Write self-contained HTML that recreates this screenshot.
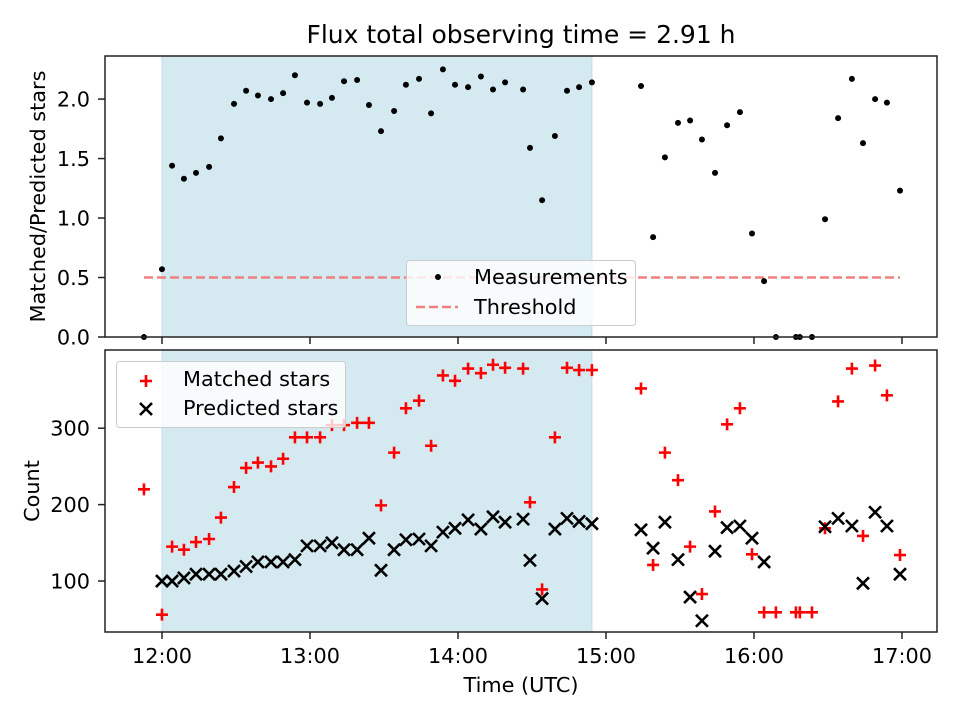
<!DOCTYPE html>
<html><head><meta charset="utf-8"><style>
body{margin:0;background:#fff;}
svg{display:block;font-family:"DejaVu Sans","Liberation Sans",sans-serif;}
</style></head><body>
<svg id="fig" width="960" height="720" viewBox="0 0 960 720"></svg>
<script>
// minutes after 12:00 UTC
const times=[-7.3,0,4.1,8.9,13.8,19.1,23.9,29.2,34.1,38.9,44.2,49.1,53.9,58.8,64.1,68.9,73.8,79.1,83.9,88.8,94.1,98.9,104.2,109.1,113.9,118.8,124.1,129.3,134.2,139.1,146.4,149.2,154.1,159.3,164.2,169.1,174.3,
194.2,199.1,203.9,209.2,214.1,218.9,224.2,229.1,234.3,239.2,244.1,248.9,257.0,258.6,263.5,268.8,274.1,279.7,284.2,289.1,293.9,299.2];
const ratio=[0,0.57,1.44,1.33,1.38,1.43,1.67,1.96,2.07,2.03,2.00,2.05,2.20,1.97,1.96,2.01,2.15,2.16,1.95,1.73,1.90,2.12,2.17,1.88,2.25,2.12,2.10,2.19,2.08,2.14,2.08,1.59,1.15,1.69,2.07,2.10,2.14,
2.11,0.84,1.51,1.80,1.82,1.66,1.38,1.78,1.89,0.87,0.47,0,0,0,0,0.99,1.84,2.17,1.63,2.00,1.97,1.23];
const matched=[220,56,145,141,151,155,183,223,248,255,250,260,288,288,288,304,304,307,307,199,268,326,336,277,369,362,378,372,383,379,378,203,89,288,379,376,376,
352,121,268,232,145,83,191,305,326,135,59,59,59,59,59,169,335,378,159,382,343,134];
const predicted=[null,100,100,104,109,109,109,113,119,125,125,125,128,146,146,150,141,141,156,114,141,154,155,146,164,169,180,168,184,177,181,127,77,168,182,178,175,
167,143,177,128,79,48,139,170,172,156,125,null,null,null,null,171,182,172,97,190,172,109];
const threshold=0.5;
const shadeStart=0, shadeEnd=174.3;
const xTicks=[0,60,120,180,240,300];
const xTickLabels=["12:00","13:00","14:00","15:00","16:00","17:00"];
const topTicks=[0,0.5,1.0,1.5,2.0];
const topTickLabels=["0.0","0.5","1.0","1.5","2.0"];
const botTicks=[100,200,300];
const botTickLabels=["100","200","300"];

const NS="http://www.w3.org/2000/svg";
const svg=document.getElementById('fig');
function el(tag,attrs,parent){const e=document.createElementNS(NS,tag);for(const k in attrs)e.setAttribute(k,attrs[k]);(parent||svg).appendChild(e);return e;}
const L=105,R=937;
const FS='20.8';
const x=m=>L+(m-(-23.1))/(314.2-(-23.1))*(R-L);
const T1=56,B1=337,T2=350,B2=632;
const yTop=v=>B1-(v-0)/(2.362-0)*(B1-T1);
const yBot=v=>B2-(v-33.3)/(402.3-33.3)*(B2-T2);

// title
let t=el('text',{x:521,y:43,'text-anchor':'middle','font-size':'25',fill:'#000'});
t.textContent='Flux total observing time = 2.91 h';



function panel(top,bot,name){
  const g=el('g',{});
  
  
  el('rect',{x:L,y:top,width:R-L,height:bot-top,fill:'#fff'},g);
  const s=el('rect',{x:x(shadeStart),y:top,width:x(shadeEnd)-x(shadeStart),height:bot-top,fill:'#d5eaf0',stroke:'#bfdfe8','stroke-width':1},g);
  
  
  return g;
}
function frame(top,bot,g){el('rect',{x:L,y:top,width:R-L,height:bot-top,fill:'none',stroke:'#222','stroke-width':1.5},g);}

// TOP PANEL
const g1=panel(T1,B1,'ratio-panel');
const th=el('line',{x1:x(-7.3),x2:x(299.2),y1:yTop(threshold),y2:yTop(threshold),stroke:'#f08080','stroke-width':2.5,'stroke-dasharray':'9,4'},g1);


times.forEach((m,i)=>{
  const c=el('circle',{cx:x(m),cy:yTop(ratio[i]),r:3,fill:'#000'},g1);
  
  
});
frame(T1,B1,g1);
topTicks.forEach((v,i)=>{
  el('line',{x1:L-7,x2:L,y1:yTop(v),y2:yTop(v),stroke:'#222','stroke-width':1.5},g1);
  const tx=el('text',{x:L-15,y:yTop(v)+7.5,'text-anchor':'end','font-size':FS},g1);
  tx.textContent=topTickLabels[i];
  
  
});
xTicks.forEach(m=>el('line',{x1:x(m),x2:x(m),y1:B1,y2:B1+7,stroke:'#222','stroke-width':1.5},g1));
let yl=el('text',{x:0,y:0,'text-anchor':'middle','font-size':FS,transform:`translate(45,${(T1+B1)/2}) rotate(-90)`},g1);
yl.textContent='Matched/Predicted stars';


// legend top
const lg1=el('g',{},g1);


el('rect',{x:406.5,y:260.5,width:229,height:65,rx:3,fill:'#fff','fill-opacity':0.8,stroke:'#ccc'},lg1);
el('circle',{cx:438,cy:277,r:3,fill:'#000'},lg1);
el('line',{x1:416,x2:458,y1:307,y2:307,stroke:'#f08080','stroke-width':2.5,'stroke-dasharray':'9,4'},lg1);
let a=el('text',{x:474,y:284,'font-size':FS},lg1);a.textContent='Measurements';
let b=el('text',{x:474,y:314,'font-size':FS},lg1);b.textContent='Threshold';

// BOTTOM PANEL
const g2=panel(T2,B2,'count-panel');
times.forEach((m,i)=>{
  const cx=x(m),cy=yBot(matched[i]);
  const p=el('path',{d:`M${cx-6},${cy}H${cx+6}M${cx},${cy-6}V${cy+6}`,stroke:'#f00','stroke-width':2.6},g2);
  
  
});
times.forEach((m,i)=>{
  if(predicted[i]===null)return;
  const cx=x(m),cy=yBot(predicted[i]);
  const p=el('path',{d:`M${cx-6},${cy-6}L${cx+6},${cy+6}M${cx-6},${cy+6}L${cx+6},${cy-6}`,stroke:'#000','stroke-width':2.6},g2);
  
  
});
frame(T2,B2,g2);
botTicks.forEach((v,i)=>{
  el('line',{x1:L-7,x2:L,y1:yBot(v),y2:yBot(v),stroke:'#222','stroke-width':1.5},g2);
  const tx=el('text',{x:L-15,y:yBot(v)+7.5,'text-anchor':'end','font-size':FS},g2);
  tx.textContent=botTickLabels[i];
  
  
});
xTicks.forEach((m,i)=>{
  el('line',{x1:x(m),x2:x(m),y1:B2,y2:B2+7,stroke:'#222','stroke-width':1.5},g2);
  const tx=el('text',{x:x(m),y:B2+31,'text-anchor':'middle','font-size':FS},g2);
  tx.textContent=xTickLabels[i];
  
  
});
let yl2=el('text',{x:0,y:0,'text-anchor':'middle','font-size':FS,transform:`translate(39,${(T2+B2)/2}) rotate(-90)`},g2);
yl2.textContent='Count';


let xl=el('text',{x:521,y:692,'text-anchor':'middle','font-size':FS},g2);
xl.textContent='Time (UTC)';


const lg2=el('g',{},g2);


el('rect',{x:116.5,y:361.5,width:229,height:66,rx:3,fill:'#fff','fill-opacity':0.8,stroke:'#ccc'},lg2);
el('path',{d:'M140,381H152M146,375V387',stroke:'#f00','stroke-width':2.6},lg2);
el('path',{d:'M140,403L152,415M140,415L152,403',stroke:'#000','stroke-width':2.6},lg2);
let c1=el('text',{x:183,y:386,'font-size':FS},lg2);c1.textContent='Matched stars';
let c2=el('text',{x:183,y:415,'font-size':FS},lg2);c2.textContent='Predicted stars';
</script>
</body></html>
